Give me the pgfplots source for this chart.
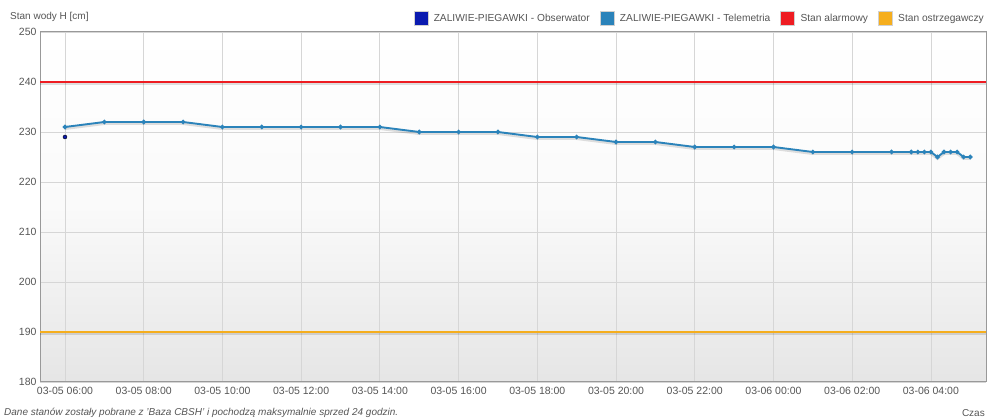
\documentclass[border=0pt]{standalone}
\usepackage{pgfplots}
\pgfplotsset{compat=1.18}
\usepackage{fontspec}
\setmainfont{Liberation Sans}
\definecolor{obs}{HTML}{0A1AB0}
\definecolor{tel}{HTML}{2B83BA}
\definecolor{alarm}{HTML}{EE1C22}
\definecolor{warn}{HTML}{F5AE1E}
\definecolor{txt}{HTML}{555555}
\definecolor{gridc}{HTML}{D6D6D6}
\begin{document}
\begin{tikzpicture}
\begin{axis}[
  scale only axis, width=946bp, height=350bp,
  xmin=5.365, xmax=29.40, ymin=180, ymax=250,
  xtick={6,8,...,28},
  xticklabels={03-05 06:00,03-05 08:00,03-05 10:00,03-05 12:00,03-05 14:00,03-05 16:00,03-05 18:00,03-05 20:00,03-05 22:00,03-06 00:00,03-06 02:00,03-06 04:00},
  ytick={180,190,...,250},
  grid=major, major grid style={draw=gridc, line width=0.8bp},
  axis line style={draw=black!40, line width=1bp},
  major tick length=0pt,
  ticklabel style={font=\fontsize{10.5bp}{12bp}\selectfont, text=txt},
  xticklabel style={yshift=-2bp},
  /pgf/number format/assume math mode=true,
  axis background/.style={top color=white, bottom color=black!10, middle color=black!2},
  legend style={at={(rel axis cs:1,1)}, anchor=south east, yshift=6bp, xshift=0bp,
    draw=none, fill=none, inner sep=0pt, font=\fontsize{10.2bp}{12bp}\selectfont, text=txt,
    legend columns=4, /tikz/every even column/.append style={column sep=8bp}},
  legend cell align=left,
  legend image code/.code={\filldraw[#1, draw=black!18, line width=1bp] (0.5bp,-6.5bp) rectangle (14.5bp,7.5bp); \path (18bp,0bp);},
]
\coordinate (ll) at (rel axis cs:0,0);
\coordinate (ur) at (rel axis cs:1,1);
\addlegendimage{color=obs}
\addlegendentry{ZALIWIE-PIEGAWKI - Obserwator}
\addlegendimage{color=tel}
\addlegendentry{ZALIWIE-PIEGAWKI - Telemetria}
\addlegendimage{color=alarm}
\addlegendentry{Stan alarmowy}
\addlegendimage{color=warn}
\addlegendentry{Stan ostrzegawczy}
% alarm and warning levels
\addplot[forget plot, draw=black, opacity=0.12, line width=3bp, transform canvas={yshift=-1.5bp}] coordinates {(5.365,240) (29.40,240)};
\addplot[forget plot, draw=alarm, line width=2.6bp] coordinates {(5.365,240) (29.40,240)};
\addplot[forget plot, draw=black, opacity=0.12, line width=3bp, transform canvas={yshift=-1.5bp}] coordinates {(5.365,190) (29.40,190)};
\addplot[forget plot, draw=warn, line width=2.8bp] coordinates {(5.365,190) (29.40,190)};
% telemetry shadow
\addplot[forget plot, draw=black, opacity=0.12, line width=3bp, transform canvas={yshift=-1.5bp}] table {
x y
6 231
7 232
8 232
9 232
10 231
11 231
12 231
13 231
14 231
15 230
16 230
17 230
18 229
19 229
20 228
21 228
22 227
23 227
24 227
25 226
26 226
27 226
27.5 226
27.667 226
27.833 226
28 226
28.167 225
28.333 226
28.5 226
28.667 226
28.833 225
29 225
};
% telemetry
\addplot[forget plot, draw=tel, line width=1.9bp, mark=*, mark size=1.2bp, mark options={fill=tel!85!black, draw=none}] table {
x y
6 231
7 232
8 232
9 232
10 231
11 231
12 231
13 231
14 231
15 230
16 230
17 230
18 229
19 229
20 228
21 228
22 227
23 227
24 227
25 226
26 226
27 226
27.5 226
27.667 226
27.833 226
28 226
28.167 225
28.333 226
28.5 226
28.667 226
28.833 225
29 225
};
% observer
\addplot[forget plot, only marks, mark=*, mark size=2bp, mark options={fill=obs, draw=none}] coordinates {(6,229)};
\end{axis}
\path (ll |- ur) ++(-30bp,15bp) node[anchor=west, inner sep=0pt, font=\fontsize{10bp}{12bp}\selectfont, text=txt] {Stan wody H [cm]};
\path (ll) ++(-36bp,-31bp) node[anchor=west, inner sep=0pt, font=\fontsize{10bp}{12bp}\selectfont\itshape, text=txt] {Dane stanów zostały pobrane z 'Baza CBSH' i pochodzą maksymalnie sprzed 24 godzin.};
\path (ur |- ll) ++(-1bp,-31bp) node[anchor=east, inner sep=0pt, font=\fontsize{10bp}{12bp}\selectfont, text=txt] {Czas};
\path ([shift={(-40bp,-37bp)}]ll) rectangle ([shift={(3bp,32bp)}]ur);
\end{tikzpicture}
\end{document}
